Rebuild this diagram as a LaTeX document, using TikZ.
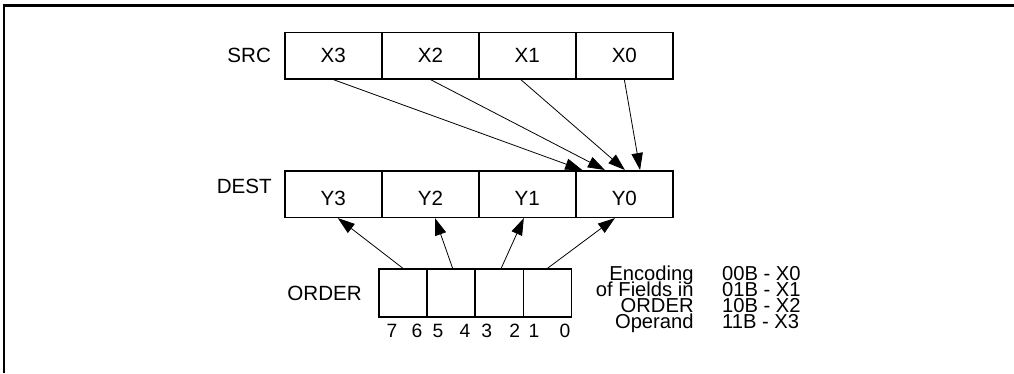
\documentclass[tikz,border=0pt]{standalone}
\usepackage{fontspec}
\setmainfont{Liberation Sans}
\usepackage{tikz}
\usetikzlibrary{arrows.meta, positioning}

\begin{document}
\begin{tikzpicture}[
    cell/.style={draw, line width=1.2pt, minimum width=2.566cm, minimum height=1.23cm, inner sep=0pt, font=\fontsize{15.5}{18}\selectfont},
    destcell/.style={cell, text height=17pt, text depth=0pt},
    ordcell/.style={draw, line width=1.2pt, minimum width=1.276cm, minimum height=1.27cm, inner sep=0pt},
    lbl/.style={inner sep=0pt, font=\fontsize{15.5}{18}\selectfont},
    bitnum/.style={inner sep=0pt, font=\fontsize{14.5}{17}\selectfont},
    note/.style={inner sep=0pt, font=\fontsize{15.2}{17}\selectfont},
    arrow/.style={-{Triangle[length=4.5mm, width=3mm]}, line width=0.6pt},
    frame/.style={line width=1.9pt}
]
    \useasboundingbox (0,0) rectangle (26.83,9.87);

    % Frame
    \draw[frame] (0.106,0) |- (26.83,9.72);

    % Source operand
    \node[cell] (x3) at (8.82,8.40) {X3};
    \node[cell] (x2) at (11.39,8.40) {X2};
    \node[cell] (x1) at (13.95,8.40) {X1};
    \node[cell] (x0) at (16.52,8.40) {X0};
    \node[lbl, left=0.34cm of x3] (srclbl) {SRC};

    % Destination
    \node[destcell] (y3) at (8.82,4.735) {Y3};
    \node[destcell] (y2) at (11.39,4.735) {Y2};
    \node[destcell] (y1) at (13.95,4.735) {Y1};
    \node[destcell] (y0) at (16.52,4.735) {Y0};
    \node[lbl, left=0.32cm of y3, yshift=0.2cm] (destlbl) {DEST};

    % Order operand
    \node[ordcell] (ord3) at (10.66,2.116) {};
    \node[ordcell] (ord2) at (11.936,2.116) {};
    \node[ordcell] (ord1) at (13.212,2.116) {};
    \node[ordcell] (ord0) at (14.488,2.116) {};
    \node[lbl, left=0.42cm of ord3] (ordlbl) {ORDER};

    % Bit numbers
    \node[bitnum] (b7) at (10.37,1.11) {7};
    \node[bitnum] (b6) at (11.03,1.11) {6};
    \node[bitnum] (b5) at (11.59,1.11) {5};
    \node[bitnum] (b4) at (12.30,1.11) {4};
    \node[bitnum] (b3) at (12.88,1.11) {3};
    \node[bitnum] (b2) at (13.62,1.11) {2};
    \node[bitnum] (b1) at (14.13,1.11) {1};
    \node[bitnum] (b0) at (14.95,1.11) {0};

    % Encoding
    \node[note, anchor=base east] (enc1) at (18.36,2.45) {Encoding};
    \node[note, anchor=base east] (enc2) at (18.36,2.025) {of Fields in};
    \node[note, anchor=base east] (enc3) at (18.36,1.60) {ORDER};
    \node[note, anchor=base east] (enc4) at (18.36,1.175) {Operand};
    \node[note, anchor=base west] (code0) at (19.10,2.45) {00B - X0};
    \node[note, anchor=base west] (code1) at (19.10,2.025) {01B - X1};
    \node[note, anchor=base west] (code2) at (19.10,1.60) {10B - X2};
    \node[note, anchor=base west] (code3) at (19.10,1.175) {11B - X3};

    % Selection SRC -> DEST
    \draw[arrow] (x3.south) -- ([xshift=0.19cm]y0.north west);
    \draw[arrow] (x2.south) -- ([xshift=0.79cm]y0.north west);
    \draw[arrow] ([xshift=-0.17cm]x1.south) -- ([xshift=1.32cm]y0.north west);
    \draw[arrow] (x0.south) -- ([xshift=1.72cm]y0.north west);

    % ORDER fields -> DEST
    \draw[arrow] (ord3.north) -- ([xshift=0.12cm]y3.south);
    \draw[arrow] ([xshift=0.04cm]ord2.north) -- ([xshift=0.12cm]y2.south);
    \draw[arrow] ([xshift=0.05cm]ord1.north) -- ([xshift=-0.09cm]y1.south);
    \draw[arrow] (ord0.north) -- ([xshift=-0.25cm]y0.south);
\end{tikzpicture}
\end{document}
